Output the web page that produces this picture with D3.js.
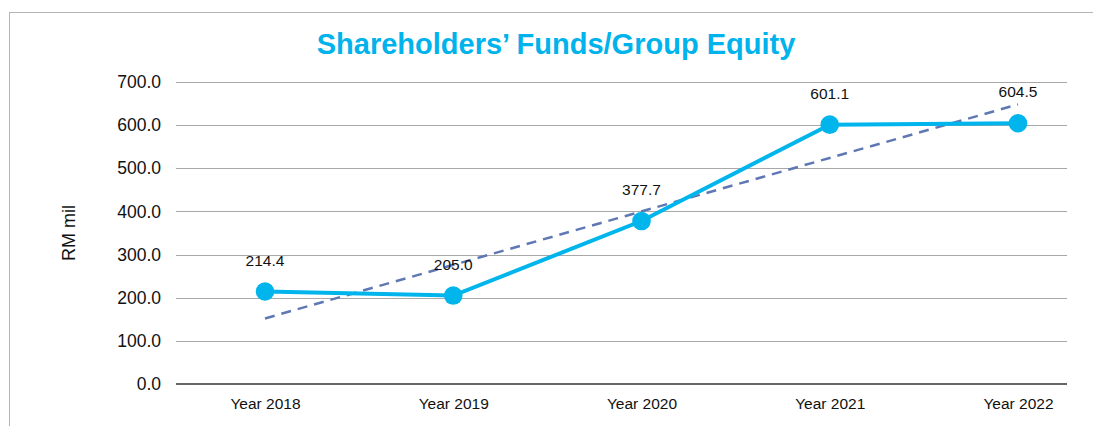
<!DOCTYPE html>
<html>
<head>
<meta charset="utf-8">
<script src="https://cdn.jsdelivr.net/npm/d3@7"></script>
<style>
  body { margin: 0; background: #fff; }
  svg { display: block; font-family: "Liberation Sans", Arial, Helvetica, sans-serif; }
</style>
</head>
<body>
<svg id="chart" width="1093" height="426"></svg>
<script>
// data
const years = ['Year 2018', 'Year 2019', 'Year 2020', 'Year 2021', 'Year 2022'];
const equity = [214.4, 205.0, 377.7, 601.1, 604.5];
const labels = ['214.4', '205.0', '377.7', '601.1', '604.5'];
const trend = [152, 648]; // dashed trend line, first & last year
const yTicks = [0, 100, 200, 300, 400, 500, 600, 700];

const svg = d3.select('#chart');

// outer frame
svg.append('rect')
    .attr('x', 9.5).attr('y', 12.5)
    .attr('width', 1200).attr('height', 600)
    .attr('fill', 'none')
    .attr('stroke', '#b3b3b3')
    .attr('stroke-width', 1);

const grid = {left: 176, right: 1067};

const xScale = d3.scalePoint()
    .domain(years)
    .range([265, 1018]);
const yScale = d3.scaleLinear()
    .domain([0, 700])
    .range([384, 82]);

// gridlines
svg.append('g')
    .selectAll('line')
    .data(yTicks.filter(d => d > 0))
    .enter()
    .append('line')
    .attr('x1', grid.left).attr('x2', grid.right)
    .attr('y1', d => Math.round(yScale(d)) + 0.5)
    .attr('y2', d => Math.round(yScale(d)) + 0.5)
    .attr('stroke', '#a8a8a8')
    .attr('stroke-width', 1);

// baseline
svg.append('line')
    .attr('x1', grid.left).attr('x2', grid.right)
    .attr('y1', yScale(0)).attr('y2', yScale(0))
    .attr('stroke', '#333')
    .attr('stroke-width', 1.3);

// y axis labels
const yAxis = d3.axisLeft(yScale)
    .tickValues(yTicks)
    .tickFormat(d3.format('.1f'))
    .tickSize(0)
    .tickPadding(0);
svg.append('g')
    .attr('class', 'y-axis')
    .attr('transform', 'translate(161, 0)')
    .call(yAxis)
    .call(g => g.select('.domain').remove())
    .selectAll('text')
    .attr('font-size', '17.5px')
    .attr('fill', '#111')
    .attr('font-family', '"Liberation Sans", Arial, sans-serif');

// x axis labels
const xAxis = d3.axisBottom(xScale).tickSize(0).tickPadding(0);
svg.append('g')
    .attr('class', 'x-axis')
    .attr('transform', 'translate(0, 398)')
    .call(xAxis)
    .call(g => g.select('.domain').remove())
    .selectAll('text')
    .attr('font-size', '15.5px')
    .attr('fill', '#111')
    .attr('font-family', '"Liberation Sans", Arial, sans-serif');

// y title
svg.append('text')
    .attr('transform', 'translate(75, 233) rotate(-90)')
    .attr('text-anchor', 'middle')
    .attr('font-size', '18px')
    .attr('fill', '#111')
    .text('RM mil');

// title
svg.append('text')
    .attr('x', 556).attr('y', 54)
    .attr('text-anchor', 'middle')
    .attr('font-size', '29px')
    .attr('font-weight', 'bold')
    .attr('fill', '#00b3ec')
    .text('Shareholders\u2019 Funds/Group Equity');

// trend line
svg.append('line')
    .attr('x1', xScale(years[0])).attr('y1', yScale(trend[0]))
    .attr('x2', xScale(years[years.length - 1])).attr('y2', yScale(trend[1]))
    .attr('stroke', '#5f78b4')
    .attr('stroke-width', 2.5)
    .attr('stroke-dasharray', '10,7');

// main line
const line = d3.line()
    .x((d, i) => xScale(years[i]))
    .y(d => yScale(d));
svg.append('path')
    .datum(equity)
    .attr('d', line)
    .attr('fill', 'none')
    .attr('stroke', '#00b5ec')
    .attr('stroke-width', 4);

svg.append('g')
    .selectAll('circle')
    .data(equity)
    .enter()
    .append('circle')
    .attr('cx', (d, i) => xScale(years[i]))
    .attr('cy', d => yScale(d))
    .attr('r', 9.3)
    .attr('fill', '#00b5ec');

// value labels
svg.append('g')
    .selectAll('text')
    .data(equity)
    .enter()
    .append('text')
    .attr('x', (d, i) => xScale(years[i]))
    .attr('y', d => yScale(d) - 26)
    .attr('text-anchor', 'middle')
    .attr('font-size', '15.5px')
    .attr('fill', '#111')
    .text((d, i) => labels[i]);
</script>
</body>
</html>
